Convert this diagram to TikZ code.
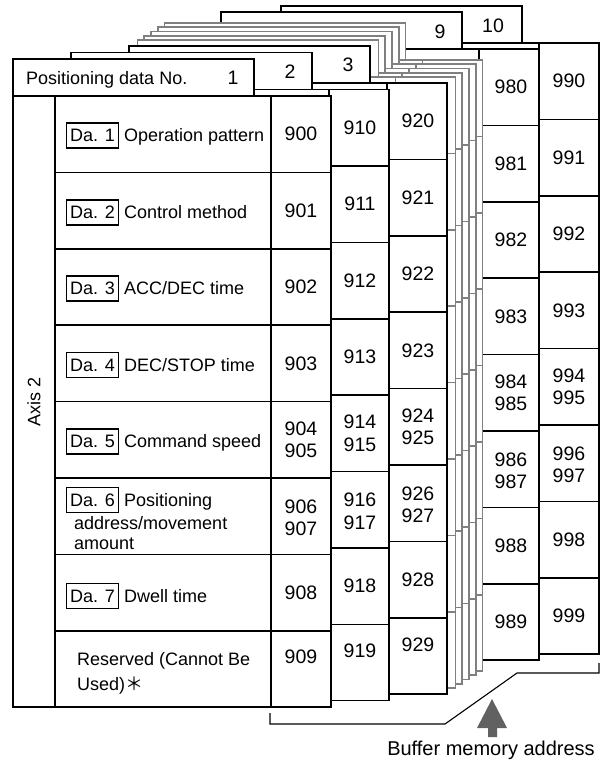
\documentclass[tikz,border=0pt]{standalone}
\usepackage{fontspec}
\setmainfont{Liberation Sans}
\newfontfamily\cjkfont{Noto Sans CJK JP}
% one stacked sheet: x0, top, colour, line width
\newcommand\drawsheet[4]{%
  \filldraw[draw=#3, line width=#4, fill=white] (#1,#2) rectangle ++(241,37);
  \filldraw[draw=#3, line width=#4, fill=white] (#1,#2+37) rectangle ++(318,611);
  \draw[draw=#3, line width=#4] (#1+42,#2+37) -- ++(0,611);
  \draw[draw=#3, line width=#4] (#1+258,#2+37) -- ++(0,611);
  \foreach \k in {1,...,7}{\draw[draw=#3, line width=#4] (#1+42,#2+37+76.4*\k) -- (#1+318,#2+37+76.4*\k);}
}
% numbers of one sheet: x centre, table top, prefix, last-row shift
\newcommand\sheetnums[4]{%
  \node[num] (n#3a) at (#1,#2+38.2) {#30};
  \node[num] (n#3b) at (#1,#2+76.4+38.2) {#31};
  \node[num] (n#3c) at (#1,#2+152.8+38.2) {#32};
  \node[num] (n#3d) at (#1,#2+229.2+38.2) {#33};
  \node[num] (n#3e) at (#1,#2+305.6+38.2) {#34\\#35};
  \node[num] (n#3f) at (#1,#2+382+40) {#36\\#37};
  \node[num] (n#3g) at (#1,#2+458.4+38.2) {#38};
  \node[num] (n#3h) at (#1,#2+534.8+38.2+#4) {#39};
}
\begin{document}
\begin{tikzpicture}[x=1pt,y=-1pt,
  txt/.style={font=\fontsize{18}{22}\selectfont, inner sep=0pt},
  lbl/.style={txt, anchor=base west},
  num/.style={font=\fontsize{19.5}{22.5}\selectfont, inner sep=0pt, align=center},
  dabox/.style={draw, line width=1.2pt, font=\fontsize{18}{22}\selectfont, inner xsep=3.5pt, inner ysep=0pt, minimum height=25pt, anchor=west},
  bracket/.style={line width=1.1pt},
  bufarrow/.style={fill=black!62},
]
\useasboundingbox (0,0) rectangle (605,763);

% sheets, back to front
\drawsheet{281}{6}{black}{1.6pt}
\drawsheet{221}{12}{black}{1.6pt}
\drawsheet{164.5}{23}{black!50}{1.6pt}
\drawsheet{157.75}{27.25}{black!50}{1.6pt}
\drawsheet{151}{31.5}{black!50}{1.6pt}
\drawsheet{144.25}{35.75}{black!50}{1.6pt}
\drawsheet{137.5}{40}{black!50}{1.6pt}
\drawsheet{129}{46}{black}{1.6pt}
\drawsheet{71}{52.5}{black}{1.6pt}
\drawsheet{13}{59}{black}{1.6pt}

% header numbers
\node[num] (h10) at (493,26) {10};
\node[num] (h9) at (440,32) {9};
\node[num] (h3) at (348,65) {3};
\node[num] (h2) at (290,71.5) {2};
\node[num] (h1) at (233,78) {1};
\node[lbl] (hdr) at (26,84) {Positioning data No.};

% buffer memory numbers
\sheetnums{569}{43}{99}{0}
\sheetnums{511}{49}{98}{0}
\sheetnums{418}{83}{92}{-11}
\sheetnums{360}{89.5}{91}{-12}
\sheetnums{301}{96}{90}{-12}

% axis label
\node[txt, rotate=90] (axis) at (34,402) {Axis 2};

% item labels
\node[dabox] (da1) at (66,135.5) {Da. 1};
\node[lbl] (t1) at ([xshift=5pt]da1.base east) {Operation pattern};
\node[dabox] (da2) at (66,212.5) {Da. 2};
\node[lbl] (t2) at ([xshift=5pt]da2.base east) {Control method};
\node[dabox] (da3) at (66,288.5) {Da. 3};
\node[lbl] (t3) at ([xshift=5pt]da3.base east) {ACC/DEC time};
\node[dabox] (da4) at (66,365) {Da. 4};
\node[lbl] (t4) at ([xshift=5pt]da4.base east) {DEC/STOP time};
\node[dabox] (da5) at (66,441.5) {Da. 5};
\node[lbl] (t5) at ([xshift=5pt]da5.base east) {Command speed};
\node[dabox] (da6) at (66,500) {Da. 6};
\node[lbl] (t6) at ([xshift=5pt]da6.base east) {Positioning};
\node[lbl] (t6b) at (74,529.5) {address/movement};
\node[lbl] (t6c) at (74,549.5) {amount};
\node[dabox] (da7) at (66,596) {Da. 7};
\node[lbl] (t7) at ([xshift=5pt]da7.base east) {Dwell time};
\node[lbl] (t8) at (77,665.5) {Reserved (Cannot Be};
\node[lbl] (t8b) at (77,690.5) {Used){\cjkfont ＊}};

% bracket and arrow
\coordinate (b1) at (270,713);
\coordinate (b2) at (270,724);
\coordinate (b3) at (445,724);
\coordinate (b4) at (517,673);
\coordinate (b5) at (599,673);
\coordinate (b6) at (599,663);
\draw[bracket] (b1) -- (b2) -- (b3) -- (b4) -- (b5) -- (b6);
\fill[bufarrow] (492,699) -- (507,728) -- (497,728) -- (497,737) -- (488,737) -- (488,728) -- (477,728) -- cycle;
\node[font=\fontsize{20}{24}\selectfont, inner sep=0pt] (buf) at (491,750) {Buffer memory address};
\end{tikzpicture}
\end{document}
